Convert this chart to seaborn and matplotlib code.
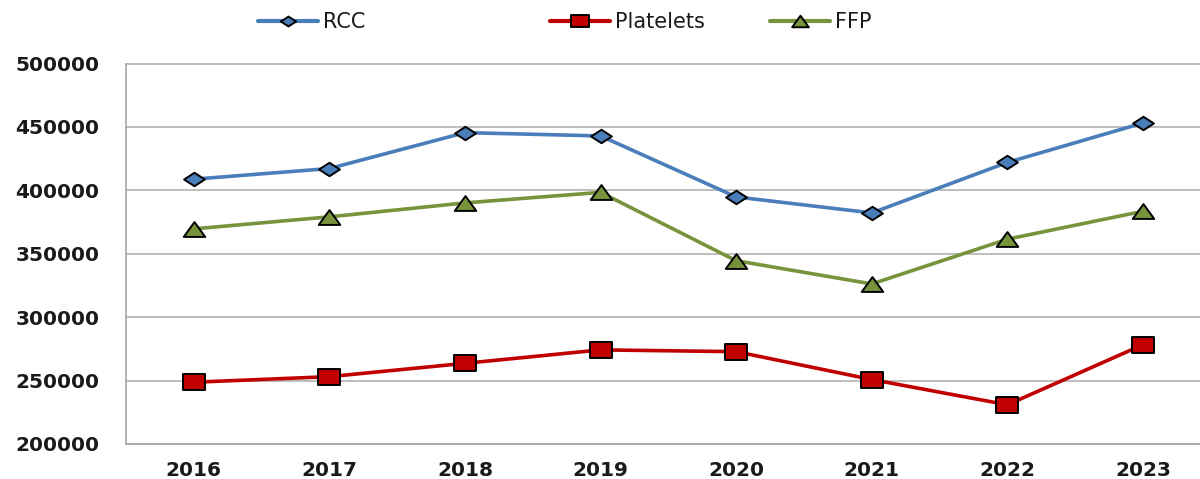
import matplotlib
matplotlib.use('Agg')
import matplotlib.pyplot as plt
import seaborn as sns
import pandas as pd
from matplotlib.path import Path

# data
years = [2016, 2017, 2018, 2019, 2020, 2021, 2022, 2023]
rcc = [408800, 417200, 445500, 442900, 394800, 382200, 422000, 453100]
platelets = [248700, 253100, 263600, 274200, 272800, 250800, 230900, 278300]
ffp = [369600, 379100, 390100, 398400, 344500, 326200, 361500, 383500]
y_ticks = [200000, 250000, 300000, 350000, 400000, 450000, 500000]

sns.set_style('white')
plt.rcParams['font.family'] = ['DejaVu Sans']

# markers are stretched sideways in the original
diamond = Path([(0, 1), (1.55, 0), (0, -1), (-1.55, 0), (0, 1)], closed=True)
square = Path([(-1.4, -1), (1.4, -1), (1.4, 1), (-1.4, 1), (-1.4, -1)], closed=True)
triangle = Path([(-1.45, -1), (1.45, -1), (0, 1), (-1.45, -1)], closed=True)

series = [
    ('RCC', rcc, '#4A7EBB', diamond, 15, 11),
    ('Platelets', platelets, '#C00000', square, 16.5, 13),
    ('FFP', ffp, '#77933C', triangle, 15.5, 12),
]

fig = plt.figure(figsize=(12, 4.79), dpi=100)
ax = fig.add_axes([0.105, 0.0731, 0.904, 0.7943])

for name, vals, col, mk, ms, _ in series:
    df = pd.DataFrame({'year': years, 'value': vals})
    sns.lineplot(data=df, x='year', y='value', ax=ax, color=col, lw=2.6,
                 marker=mk, markersize=ms, markeredgecolor='black',
                 markeredgewidth=1.4, label=name)

ax.set_xlim(2015.5, 2023.5)
ax.set_ylim(200000, 500000)
ax.set_yticks(y_ticks)
ax.set_yticklabels([str(v) for v in y_ticks])
ax.set_xticks(years)
ax.set_xticks([y + 0.5 for y in [2015] + years], minor=True)
ax.set_xlabel('')
ax.set_ylabel('')

ax.grid(axis='y', color='#B3B3B3', lw=1.2)
for gl in ax.get_ygridlines():
    gl.set_clip_on(False)
ax.set_axisbelow(True)
for s in ['top', 'right']:
    ax.spines[s].set_visible(False)
for s in ['left', 'bottom']:
    ax.spines[s].set_color('#A6A6A6')
    ax.spines[s].set_linewidth(1.2)

ax.tick_params(axis='y', length=7, width=1.2, color='#A6A6A6', pad=12,
               labelsize=14.5, labelcolor='#1a1a1a')
ax.tick_params(axis='x', which='major', length=0, pad=12,
               labelsize=14.5, labelcolor='#1a1a1a')
ax.tick_params(axis='x', which='minor', length=4.5, width=1.2, color='#A6A6A6')
for lab in ax.get_xticklabels() + ax.get_yticklabels():
    lab.set_fontweight('bold')

handles, labels = ax.get_legend_handles_labels()
ax.get_legend().remove()
for h, l, xpos, s in zip(handles, labels, [258, 550, 770], series):
    leg = fig.legend([h], [l], loc='center left', bbox_to_anchor=(xpos / 1200, 1 - 22 / 479),
                     frameon=False, fontsize=15, borderpad=0, borderaxespad=0,
                     handlelength=2.9, handletextpad=0.2, labelcolor='#1a1a1a')
    leg.legend_handles[0].set_markersize(s[5])
    leg.legend_handles[0].set_linewidth(3)

fig.savefig('out.png', dpi=100)
